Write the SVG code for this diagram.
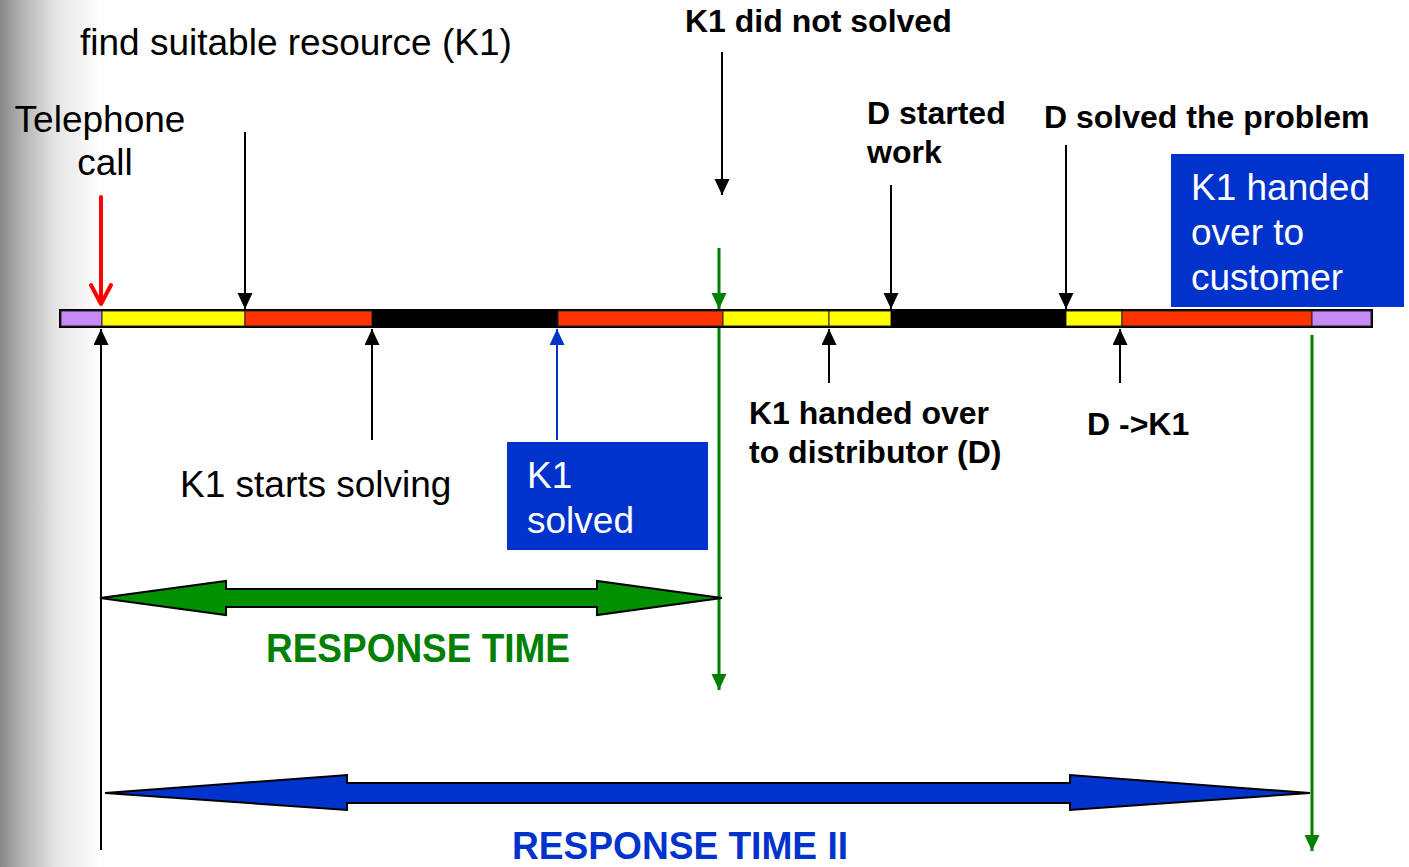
<svg xmlns="http://www.w3.org/2000/svg" width="1409" height="867" viewBox="0 0 1409 867">
<defs>
<linearGradient id="edge" x1="0" y1="0" x2="1" y2="0">
<stop offset="0" stop-color="#888888"/>
<stop offset="0.25" stop-color="#b8b8b8"/>
<stop offset="0.55" stop-color="#e4e4e4"/>
<stop offset="1" stop-color="#ffffff"/>
</linearGradient>
<marker id="ah-black" markerUnits="userSpaceOnUse" markerWidth="18" markerHeight="18" refX="16" refY="7.5" orient="auto">
<path d="M0,0 L16,7.5 L0,15 z" fill="#000"/>
</marker>
<marker id="ah-blue" markerUnits="userSpaceOnUse" markerWidth="18" markerHeight="18" refX="16" refY="7.5" orient="auto">
<path d="M0,0 L16,7.5 L0,15 z" fill="#0033cc"/>
</marker>
<marker id="ah-green" markerUnits="userSpaceOnUse" markerWidth="18" markerHeight="18" refX="16" refY="7.5" orient="auto">
<path d="M0,0 L16,7.5 L0,15 z" fill="#008000"/>
</marker>
<style>
.t{font-family:"Liberation Sans",Arial,sans-serif;fill:#000}
.r36{font-size:37px}
.b31{font-size:32px;font-weight:bold}
.w{fill:#fff}
.blk{stroke:#000;stroke-width:2;fill:none;marker-end:url(#ah-black)}
.grn{stroke:#008000;stroke-width:3;fill:none}
.seg{stroke:#222;stroke-width:1}
.box{fill:#0033cc}
</style>
</defs>
<rect x="0" y="0" width="1409" height="867" fill="#fff"/>
<rect x="0" y="0" width="100" height="867" fill="url(#edge)"/>

<g id="connectors">
<line x1="101" y1="850" x2="101" y2="329" class="blk"/>
<line x1="245" y1="132" x2="245" y2="309" class="blk"/>
<line x1="372" y1="440" x2="372" y2="329" class="blk"/>
<line x1="557" y1="440" x2="557" y2="329" stroke="#0033cc" stroke-width="2" marker-end="url(#ah-blue)"/>
<line x1="722" y1="52" x2="722" y2="195" class="blk"/>
<line x1="891" y1="185" x2="891" y2="309" class="blk"/>
<line x1="1066" y1="145" x2="1066" y2="309" class="blk"/>
<line x1="829" y1="383" x2="829" y2="329" class="blk"/>
<line x1="1120" y1="383" x2="1120" y2="329" class="blk"/>
<line x1="719" y1="248" x2="719" y2="309" class="grn" marker-end="url(#ah-green)"/>
<line x1="719" y1="320" x2="719" y2="690" class="grn" marker-end="url(#ah-green)"/>
<line x1="1312" y1="335" x2="1312" y2="851" class="grn" marker-end="url(#ah-green)"/>
<g stroke="#ff0000" stroke-width="4" fill="none" stroke-linecap="round" stroke-linejoin="round">
<line x1="101" y1="197" x2="101" y2="303"/>
<polyline points="91,285 101,304 111,285"/>
</g>
<polygon points="100,598 226,581 226,589 597,589 597,581 722,598 597,615 597,607 226,607 226,615" fill="#009000" stroke="#000" stroke-width="2" stroke-linejoin="miter"/>
<polygon points="105,793 347,775 347,783 1070,783 1070,775 1310,793 1070,810 1070,803 347,803 347,810" fill="#0033cc" stroke="#000" stroke-width="2"/>
</g>

<g id="timeline">
<rect x="60" y="310" width="1312" height="17" fill="#000" stroke="#000" stroke-width="2"/>
<rect x="61" y="311" width="41" height="15" fill="#c58af5" class="seg"/>
<rect x="102" y="311" width="143" height="15" fill="#ffff00" class="seg"/>
<rect x="245" y="311" width="127" height="15" fill="#ff3300" class="seg"/>
<rect x="372" y="311" width="186" height="15" fill="#000"/>
<rect x="558" y="311" width="165" height="15" fill="#ff3300" class="seg"/>
<rect x="723" y="311" width="106" height="15" fill="#ffff00" class="seg"/>
<rect x="829" y="311" width="62" height="15" fill="#ffff00" class="seg"/>
<rect x="891" y="311" width="175" height="15" fill="#000"/>
<rect x="1066" y="311" width="56" height="15" fill="#ffff00" class="seg"/>
<rect x="1122" y="311" width="190" height="15" fill="#ff3300" class="seg"/>
<rect x="1312" y="311" width="59" height="15" fill="#c58af5" class="seg"/>
</g>

<g id="find-resource"><text class="t r36" x="80" y="55">find suitable resource (K1)</text></g>
<g id="telephone-call">
<text class="t r36" x="100" y="132" text-anchor="middle">Telephone</text>
<text class="t r36" x="105" y="175" text-anchor="middle">call</text>
</g>
<g id="k1-not-solved"><text class="t b31" x="685" y="32">K1 did not solved</text></g>
<g id="d-started">
<text class="t b31" x="867" y="124">D started</text>
<text class="t b31" x="867" y="163">work</text>
</g>
<g id="d-solved"><text class="t b31" x="1044" y="128">D solved the problem</text></g>
<g id="k1-to-customer">
<rect x="1171" y="154" width="233" height="153" class="box"/>
<text class="t r36 w" x="1191" y="200">K1 handed</text>
<text class="t r36 w" x="1191" y="245">over to</text>
<text class="t r36 w" x="1191" y="290">customer</text>
</g>
<g id="k1-to-distributor">
<text class="t b31" x="749" y="424">K1 handed over</text>
<text class="t b31" x="749" y="463">to distributor (D)</text>
</g>
<g id="d-to-k1"><text class="t b31" x="1087" y="435">D -&gt;K1</text></g>
<g id="k1-starts"><text class="t r36" x="180" y="497">K1 starts solving</text></g>
<g id="k1-solved">
<rect x="507" y="442" width="201" height="108" class="box"/>
<text class="t r36 w" x="527" y="488">K1</text>
<text class="t r36 w" x="527" y="533">solved</text>
</g>
<g id="response-time"><text class="t" x="266" y="662" font-size="40" font-weight="bold" style="fill:#008000" textLength="304" lengthAdjust="spacingAndGlyphs">RESPONSE TIME</text></g>
<g id="response-time-2"><text class="t" x="512" y="859" font-size="38" font-weight="bold" style="fill:#0033cc" textLength="336" lengthAdjust="spacingAndGlyphs">RESPONSE TIME II</text></g>
</svg>
